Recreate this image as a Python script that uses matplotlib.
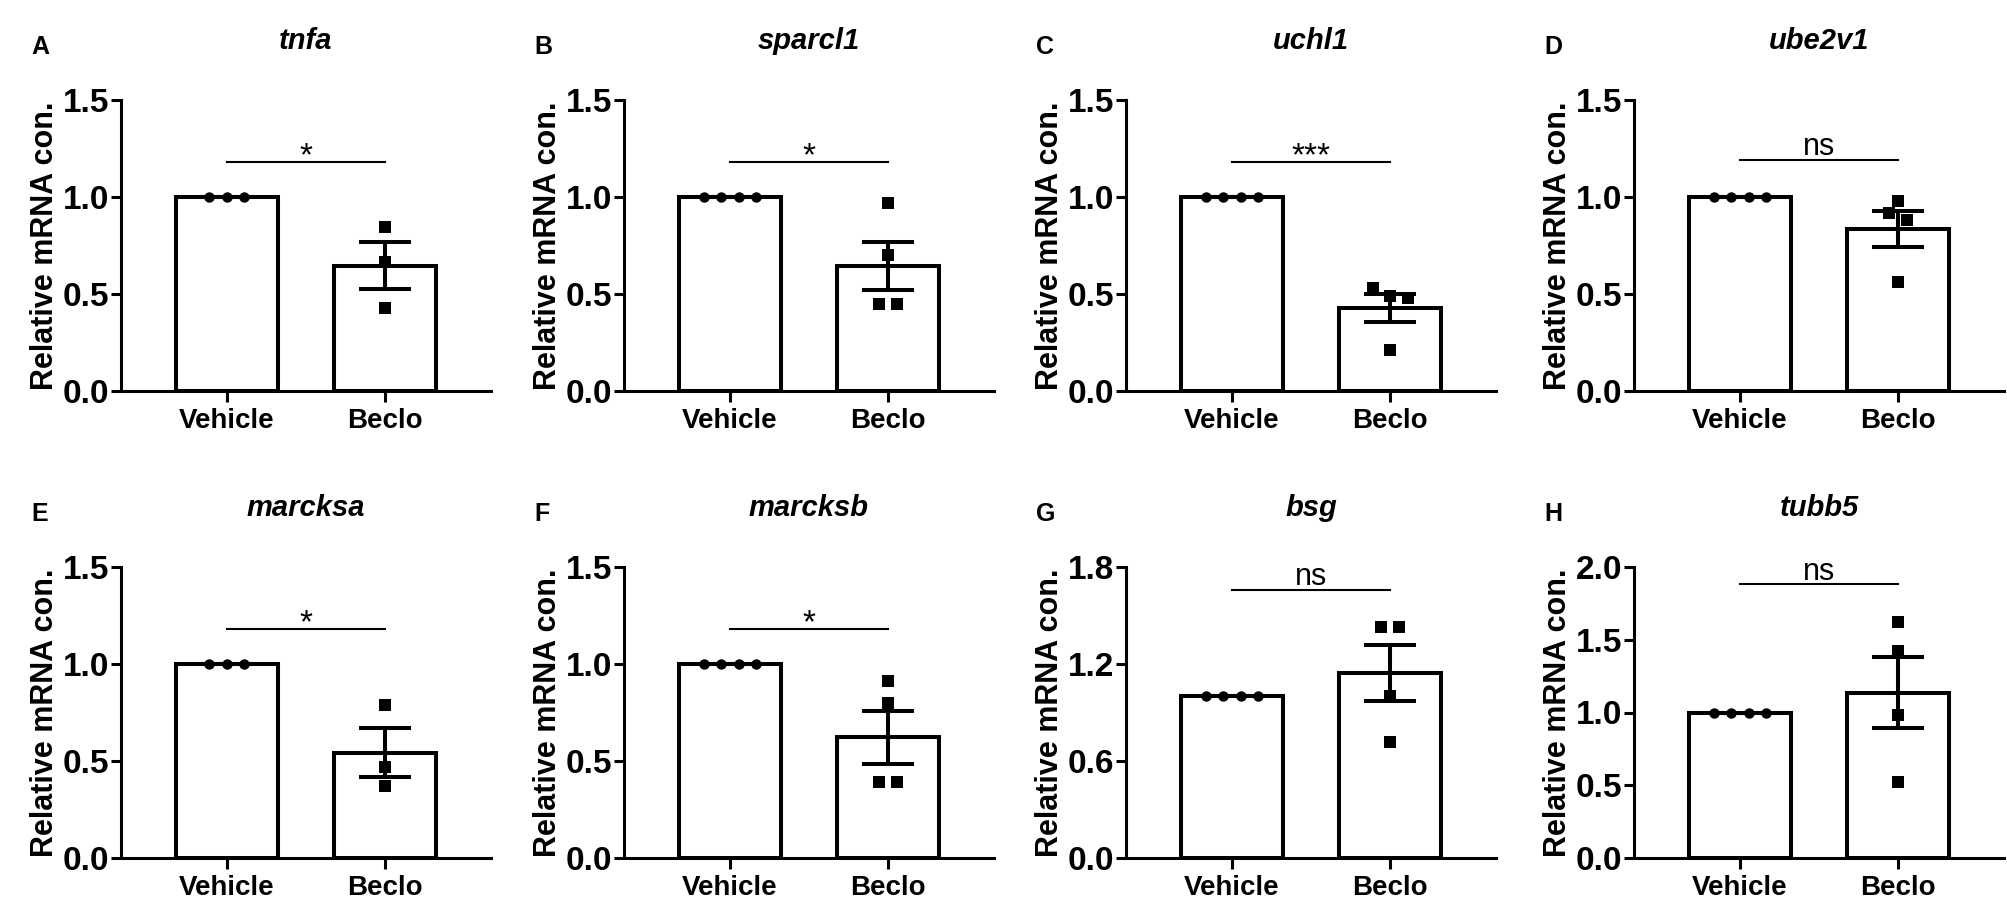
import matplotlib.pyplot as plt
import numpy as np

plt.rcParams['font.family'] = 'Liberation Sans'

# data
genes = ['tnfa', 'sparcl1', 'uchl1', 'ube2v1', 'marcksa', 'marcksb', 'bsg', 'tubb5']
letters = ['A', 'B', 'C', 'D', 'E', 'F', 'G', 'H']
groups = ['Vehicle', 'Beclo']
vehicle = [[1.0] * 3, [1.0] * 4, [1.0] * 4, [1.0] * 4,
           [1.0] * 3, [1.0] * 4, [1.0] * 4, [1.0] * 4]
beclo = [[0.845, 0.665, 0.43],
         [0.97, 0.70, 0.45, 0.45],
         [0.53, 0.49, 0.48, 0.21],
         [0.98, 0.92, 0.88, 0.56],
         [0.79, 0.47, 0.37],
         [0.91, 0.80, 0.39, 0.39],
         [1.43, 1.43, 1.00, 0.72],
         [1.62, 1.42, 0.98, 0.52]]
signif = ['*', '*', '***', 'ns', '*', '*', 'ns', 'ns']
sig_y = [1.18, 1.18, 1.18, 1.19, 1.18, 1.18, 1.66, 1.88]
y_max = [1.5, 1.5, 1.5, 1.5, 1.5, 1.5, 1.8, 2.0]
y_step = [0.5, 0.5, 0.5, 0.5, 0.5, 0.5, 0.6, 0.5]

W, H = 2008, 902
col_left = [121, 624, 1126, 1634]
row_top = [100, 567]
ax_w, ax_h = 370, 291
XLIM = (-0.67, 1.67)


def swarm(values, ppu_y, step=0.111, gap_px=10):
    # spread points that would overlap into a centred row
    order = sorted(range(len(values)), key=lambda i: -values[i])
    clusters = [[order[0]]]
    for i in order[1:]:
        if (values[clusters[-1][-1]] - values[i]) * ppu_y < gap_px:
            clusters[-1].append(i)
        else:
            clusters.append([i])
    offs = np.zeros(len(values))
    for cl in clusters:
        k = len(cl)
        for j, i in enumerate(cl):
            offs[i] = (j - (k - 1) / 2) * step
    return offs


fig = plt.figure(figsize=(W / 100, H / 100), dpi=100)

for i, gene in enumerate(genes):
    r, c = divmod(i, 4)
    left, top = col_left[c], row_top[r]
    ax = fig.add_axes([left / W, 1 - (top + ax_h) / H, ax_w / W, ax_h / H])

    groups_vals = [np.array(vehicle[i]), np.array(beclo[i])]
    means = [v.mean() for v in groups_vals]
    sems = [v.std(ddof=1) / np.sqrt(len(v)) for v in groups_vals]

    ax.bar([0, 1], means, width=0.65, color='white', edgecolor='black',
           linewidth=2.9, zorder=2)
    ax.errorbar([0, 1], means, yerr=sems, fmt='none', ecolor='black',
                elinewidth=2.9, capsize=18.5, capthick=2.9, zorder=4)

    ppu_y = ax_h / y_max[i]
    for g, vals in enumerate(groups_vals):
        xs = g + swarm(list(vals), ppu_y)
        ax.plot(xs, vals, 'o' if g == 0 else 's', ms=7.5 if g == 0 else 8.2,
                mew=0, color='black', zorder=5, clip_on=False)

    sy = sig_y[i]
    ax.plot([0, 1], [sy, sy], color='black', lw=1.5, zorder=3)
    if signif[i] == 'ns':
        ax.annotate('ns', (0.5, sy), xytext=(0, 3.5), textcoords='offset points',
                    ha='center', va='baseline', fontsize=22)
    else:
        ax.annotate(signif[i], (0.5, sy), xytext=(0, -2), textcoords='offset points',
                    ha='center', va='baseline', fontsize=24)

    ax.set_xlim(*XLIM)
    ax.set_ylim(0, y_max[i])
    ax.set_yticks(np.arange(0, y_max[i] + 1e-9, y_step[i]))
    ax.yaxis.set_major_formatter(plt.FormatStrFormatter('%.1f'))
    ax.set_xticks([0, 1])
    ax.set_xticklabels(groups)
    for s in ['top', 'right']:
        ax.spines[s].set_visible(False)
    for s in ['left', 'bottom']:
        ax.spines[s].set_linewidth(2.2)
    ax.tick_params(axis='y', length=7.2, width=2.2, pad=1.5, labelsize=24)
    ax.tick_params(axis='x', length=8, width=2.2, pad=4, labelsize=20)
    for lab in ax.get_xticklabels() + ax.get_yticklabels():
        lab.set_fontweight('bold')
    ax.set_ylabel('Relative mRNA con.', fontsize=22, fontweight='bold', labelpad=2)
    ax.set_title(gene, fontsize=21, fontweight='bold', fontstyle='italic', pad=37)

    base = 54 if r == 0 else 521
    fig.text((left - 90) / W, 1 - base / H, letters[i], fontsize=18,
             fontweight='bold', va='baseline')

fig.savefig('out.png', dpi=100)
